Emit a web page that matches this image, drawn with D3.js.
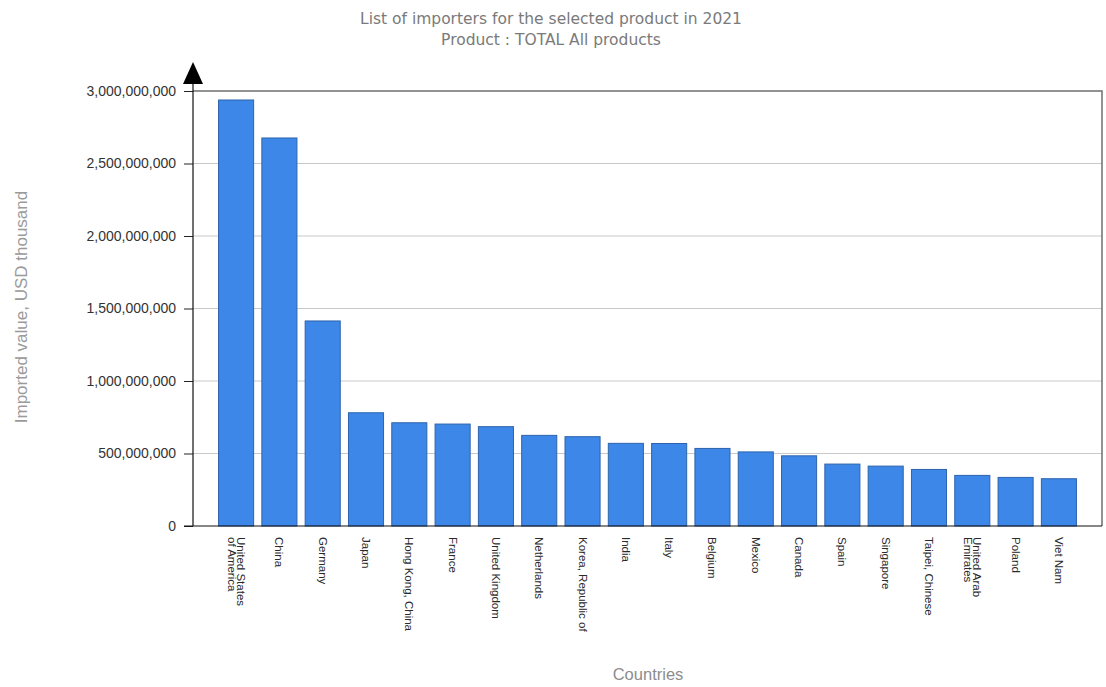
<!DOCTYPE html>
<html>
<head>
<meta charset="utf-8">
<script src="https://cdn.jsdelivr.net/npm/d3@7/dist/d3.min.js"></script>
<style>
  html, body { margin: 0; padding: 0; background: #fff; }
  svg { display: block; }
</style>
</head>
<body>
<svg id="chart" width="1106" height="687"></svg>
<script>
// Importers of all products, 2021 (USD thousand)
const countries = [
  "United States of America", "China", "Germany", "Japan", "Hong Kong, China",
  "France", "United Kingdom", "Netherlands", "Korea, Republic of", "India",
  "Italy", "Belgium", "Mexico", "Canada", "Spain",
  "Singapore", "Taipei, Chinese", "United Arab Emirates", "Poland", "Viet Nam"
];
const importedValues = [
  2938000000, 2676000000, 1414000000, 781000000, 712000000,
  703000000, 685000000, 625000000, 616000000, 570000000,
  569000000, 535000000, 511000000, 484000000, 427000000,
  413000000, 390000000, 349000000, 335000000, 326000000
];
const yTicks = [0, 500000000, 1000000000, 1500000000, 2000000000, 2500000000, 3000000000];
const titleLines = [
  "List of importers for the selected product in 2021",
  "Product : TOTAL All products"
];
const yTitle = "Imported value, USD thousand";
const xTitle = "Countries";

const svg = d3.select("#chart");
const plot = { left: 193, right: 1102, top: 91, bottom: 526 };

const x = d3.scaleBand()
  .domain(countries)
  .range([plot.left, plot.right])
  .paddingInner(0.19)
  .paddingOuter(0.59);

const y = d3.scaleLinear()
  .domain([0, 3000000000])
  .range([plot.bottom, plot.top]);

// Titles
svg.append("g")
  .selectAll("text")
  .data(titleLines)
  .join("text")
  .attr("x", 551)
  .attr("y", (d, i) => 24 + i * 21)
  .attr("text-anchor", "middle")
  .attr("font-family", "DejaVu Sans, Verdana, sans-serif")
  .attr("font-size", 15.5)
  .attr("fill", "#7a7a7a")
  .text(d => d);

// Horizontal gridlines
svg.append("g")
  .selectAll("line")
  .data(yTicks.filter(t => t > 0 && t < 3000000000))
  .join("line")
  .attr("x1", plot.left).attr("x2", plot.right)
  .attr("y1", d => y(d)).attr("y2", d => y(d))
  .attr("stroke", "#c9c9c9")
  .attr("stroke-width", 1);

// Plot frame (top and right edges)
svg.append("path")
  .attr("d", `M${plot.left},${y(3000000000)}H${plot.right}V${plot.bottom}`)
  .attr("fill", "none")
  .attr("stroke", "#6f6f6f")
  .attr("stroke-width", 1.5);

// Bars
svg.append("g")
  .selectAll("rect")
  .data(countries.map((c, i) => ({ c, v: importedValues[i] })))
  .join("rect")
  .attr("x", d => x(d.c))
  .attr("width", x.bandwidth())
  .attr("y", d => y(d.v))
  .attr("height", d => y(0) - y(d.v))
  .attr("fill", "#3c87e8")
  .attr("stroke", "#2d63ad")
  .attr("stroke-width", 1);

// Y axis
const yAxis = d3.axisLeft(y)
  .tickValues(yTicks)
  .tickFormat(d3.format(","))
  .tickSize(9)
  .tickPadding(8);
const gy = svg.append("g")
  .attr("transform", `translate(${plot.left},0)`)
  .call(yAxis);
gy.select(".domain").remove();
gy.selectAll(".tick line").attr("stroke", "#222");
gy.selectAll(".tick text")
  .attr("font-family", "Liberation Sans, Arial, sans-serif")
  .attr("font-size", 14)
  .attr("fill", "#333");

// Axis lines and the arrow on the value axis
svg.append("line")
  .attr("x1", plot.left).attr("x2", plot.left)
  .attr("y1", 70).attr("y2", plot.bottom)
  .attr("stroke", "#111").attr("stroke-width", 1.2);
svg.append("line")
  .attr("x1", plot.left - 9).attr("x2", plot.right)
  .attr("y1", plot.bottom).attr("y2", plot.bottom)
  .attr("stroke", "#111").attr("stroke-width", 1.2);
svg.append("path")
  .attr("d", `M${plot.left},62L${plot.left + 10},84L${plot.left - 10},84Z`)
  .attr("fill", "#000");

// Category labels, rotated; long names are split into two balanced lines
const xAxis = d3.axisBottom(x).tickSize(0).tickPadding(0);
const gx = svg.append("g")
  .attr("transform", `translate(0,${plot.bottom})`)
  .call(xAxis);
gx.select(".domain").remove();
const lineH = 9;
const maxLabelWidth = 104;
gx.selectAll(".tick text").each(function(d) {
  const t = d3.select(this);
  t.text(null)
    .attr("font-family", "Liberation Sans, Arial, sans-serif")
    .attr("font-size", 11.5)
    .attr("fill", "#2a2a2a")
    .attr("text-anchor", "start")
    .attr("y", 0).attr("dy", null)
    .attr("transform", "translate(0,11) rotate(90)");
  const probe = t.append("tspan").text(d);
  let lines = [d];
  if (probe.node().getComputedTextLength() > maxLabelWidth) {
    const words = d.split(" ");
    let best = null;
    for (let k = 1; k < words.length; k++) {
      const a = words.slice(0, k).join(" ");
      const b = words.slice(k).join(" ");
      const diff = Math.abs(a.length - b.length);
      if (!best || diff < best.diff) best = { diff, parts: [a, b] };
    }
    if (best) lines = best.parts;
  }
  probe.remove();
  const n = lines.length;
  lines.forEach((ln, i) => {
    t.append("tspan")
      .attr("x", 0)
      .attr("y", (i - (n - 1) / 2) * lineH)
      .attr("dy", "0.35em")
      .text(ln);
  });
});

// Axis titles
svg.append("text")
  .attr("transform", "translate(27,307) rotate(-90)")
  .attr("text-anchor", "middle")
  .attr("font-family", "Liberation Sans, Arial, sans-serif")
  .attr("font-size", 17)
  .attr("fill", "#9a9a9a")
  .text(yTitle);
svg.append("text")
  .attr("x", 648).attr("y", 680)
  .attr("text-anchor", "middle")
  .attr("font-family", "Liberation Sans, Arial, sans-serif")
  .attr("font-size", 16.5)
  .attr("fill", "#8c8c8c")
  .text(xTitle);
</script>
</body>
</html>
